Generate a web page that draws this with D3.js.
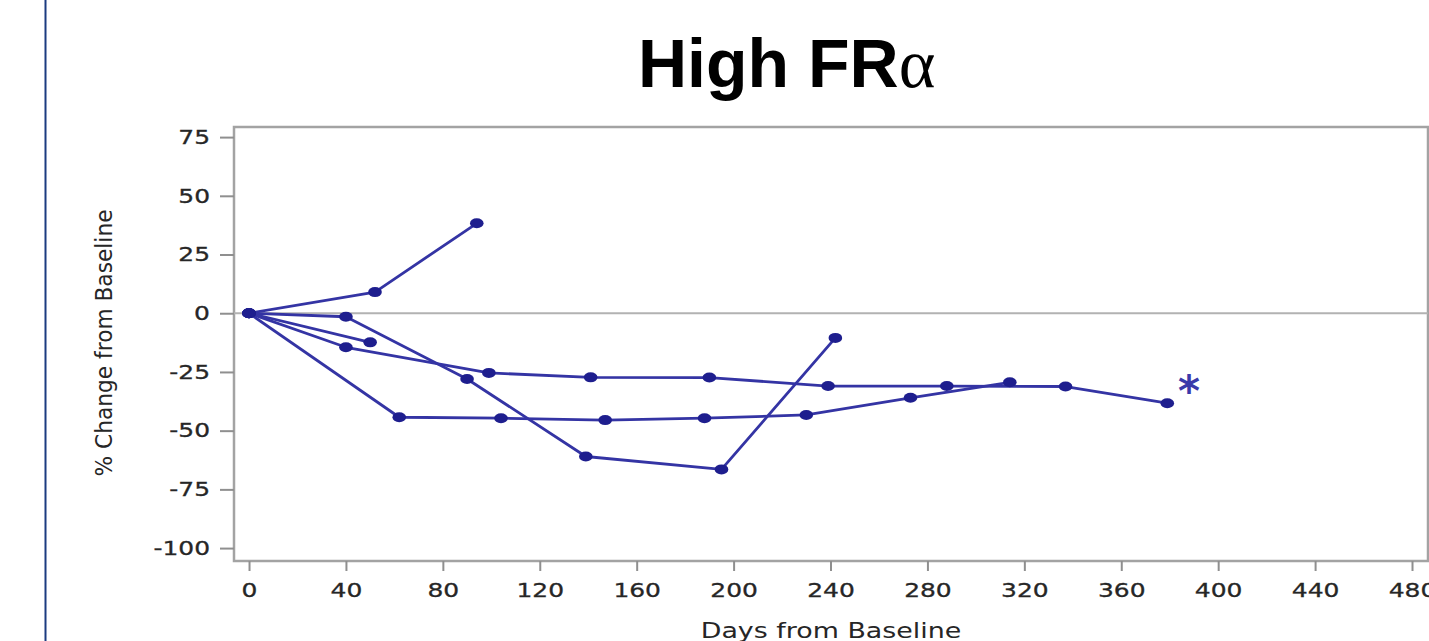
<!DOCTYPE html>
<html>
<head>
<meta charset="utf-8">
<script src="https://cdn.jsdelivr.net/npm/d3@7"></script>
<style>
  html, body { margin: 0; padding: 0; background: #fff; }
  svg { display: block; }
</style>
</head>
<body>
<svg id="chart" width="1429" height="641"></svg>
<script>
// ---- Data ----
const xTickValues = [0, 40, 80, 120, 160, 200, 240, 280, 320, 360, 400, 440, 480];
const yTickValues = [-100, -75, -50, -25, 0, 25, 50, 75];

const seriesA_days = [0, 52, 94];
const seriesA_vals = [0, 9, 38.3];

const seriesB_days = [0, 40, 90, 139, 195, 242];
const seriesB_vals = [0, -1.5, -28, -61, -66.5, -10.5];

const seriesC_days = [0, 50];
const seriesC_vals = [0, -12.4];

const seriesD_days = [0, 40, 99, 141, 190, 239, 288, 337, 379];
const seriesD_vals = [0, -14.5, -25.4, -27.3, -27.4, -31, -31, -31.2, -38.3];

const seriesE_days = [0, 62, 104, 147, 188, 230, 273, 314];
const seriesE_vals = [0, -44.3, -44.7, -45.5, -44.7, -43.3, -36, -29.4];

const asteriskPoint = { day: 388, val: -29 };

const titleMain = "High FR";
const titleGreek = "α";
const xTitle = "Days from Baseline";
const yTitle = "% Change from Baseline";

// ---- Layout ----
const svg = d3.select("#chart");
const plot = { left: 234, top: 127, right: 1428, bottom: 561 };
const STRETCH = 1.28;   // the reference is horizontally stretched
const lineColor = "#3434a4";
const dotColor = "#1e1e8e";
const axisGrey = "#a3a3a3";
const textColor = "#262626";
const fmt = d => String(d);   // plain hyphen-minus, as in the reference

const x = d3.scaleLinear().domain([-6.2, 486.6]).range([plot.left, plot.right]);
const y = d3.scaleLinear().domain([-105.5, 79.3]).range([plot.bottom, plot.top]);

// left slide border
svg.append("line")
  .attr("x1", 45.5).attr("x2", 45.5).attr("y1", 0).attr("y2", 641)
  .attr("stroke", "#1b3b80").attr("stroke-width", 2);

// title
const title = svg.append("text")
  .attr("x", 638).attr("y", 87)
  .attr("fill", "#000");
title.append("tspan")
  .attr("font-family", "'Liberation Sans', Arial, sans-serif")
  .attr("font-weight", "bold").attr("font-size", 68)
  .text(titleMain);
title.append("tspan")
  .attr("font-family", "'Liberation Serif', 'Times New Roman', serif")
  .attr("font-size", 70)
  .text(titleGreek);

// frame
svg.append("rect")
  .attr("x", plot.left).attr("y", plot.top)
  .attr("width", plot.right - plot.left).attr("height", plot.bottom - plot.top)
  .attr("fill", "none").attr("stroke", axisGrey).attr("stroke-width", 2.5);

// zero reference line
svg.append("line")
  .attr("x1", plot.left).attr("x2", plot.right)
  .attr("y1", y(0)).attr("y2", y(0))
  .attr("stroke", "#b2b2b2").attr("stroke-width", 2);

// y axis
const yAxisG = svg.append("g")
  .attr("transform", `translate(${plot.left},0)`)
  .call(d3.axisLeft(y).tickValues(yTickValues).tickSize(14).tickPadding(24 / STRETCH - 14)
        .tickFormat(fmt));
yAxisG.select(".domain").remove();
yAxisG.selectAll(".tick line").attr("stroke", "#8f8f8f").attr("stroke-width", 2);
yAxisG.selectAll(".tick text")
  .attr("font-family", "'DejaVu Sans', Verdana, sans-serif")
  .attr("font-size", 19.5).attr("fill", textColor)
  .attr("stroke", textColor).attr("stroke-width", 0.3)
  .attr("transform", `scale(${STRETCH},1)`);

// x axis
const xAxisG = svg.append("g")
  .attr("transform", `translate(0,${plot.bottom})`)
  .call(d3.axisBottom(x).tickValues(xTickValues).tickSize(10).tickPadding(12)
        .tickFormat(fmt));
xAxisG.select(".domain").remove();
xAxisG.selectAll(".tick line").attr("stroke", "#8f8f8f").attr("stroke-width", 2);
xAxisG.selectAll(".tick text")
  .attr("font-family", "'DejaVu Sans', Verdana, sans-serif")
  .attr("font-size", 19.5).attr("fill", textColor)
  .attr("stroke", textColor).attr("stroke-width", 0.3)
  .attr("transform", `scale(${STRETCH},1)`);

// axis titles
svg.append("text")
  .attr("transform", `translate(${(plot.left + plot.right) / 2},638) scale(${STRETCH},1)`)
  .attr("text-anchor", "middle")
  .attr("font-family", "'DejaVu Sans', Verdana, sans-serif")
  .attr("font-size", 21).attr("fill", textColor)
  .text(xTitle);

svg.append("text")
  .attr("transform", `translate(112,343) scale(${STRETCH},1) rotate(-90)`)
  .attr("text-anchor", "middle")
  .attr("font-family", "'DejaVu Sans', Verdana, sans-serif")
  .attr("font-size", 18.5).attr("fill", textColor)
  .attr("textLength", 267).attr("lengthAdjust", "spacingAndGlyphs")
  .text(yTitle);

// series
const series = [
  { days: seriesA_days, vals: seriesA_vals },
  { days: seriesB_days, vals: seriesB_vals },
  { days: seriesC_days, vals: seriesC_vals },
  { days: seriesD_days, vals: seriesD_vals },
  { days: seriesE_days, vals: seriesE_vals }
].map(s => s.days.map((d, i) => ({ day: d, val: s.vals[i] })));

const line = d3.line().x(d => x(d.day)).y(d => y(d.val));

const gSeries = svg.append("g");
gSeries.selectAll("path.series")
  .data(series).enter().append("path")
  .attr("class", "series")
  .attr("d", line)
  .attr("fill", "none")
  .attr("stroke", lineColor)
  .attr("stroke-width", 2.8)
  .attr("stroke-linejoin", "round");

gSeries.selectAll("g.dots")
  .data(series).enter().append("g")
  .attr("class", "dots")
  .selectAll("ellipse")
  .data(d => d).enter().append("ellipse")
  .attr("cx", d => x(d.day)).attr("cy", d => y(d.val))
  .attr("rx", 6.8).attr("ry", 5)
  .attr("fill", dotColor);

// asterisk annotation
svg.append("text")
  .attr("x", x(asteriskPoint.day)).attr("y", y(asteriskPoint.val) + 25)
  .attr("text-anchor", "middle")
  .attr("font-family", "'DejaVu Sans', Verdana, sans-serif")
  .attr("font-size", 42).attr("font-weight", "bold").attr("fill", "#3a3aaa")
  .text("*");
</script>
</body>
</html>
